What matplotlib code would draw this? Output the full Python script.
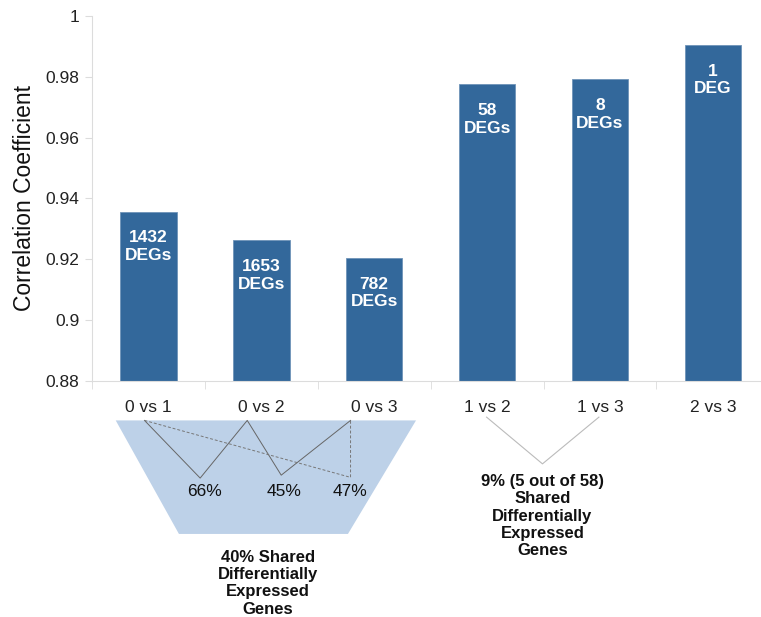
import matplotlib
matplotlib.use("Agg")
import matplotlib.pyplot as plt
import matplotlib.transforms as mtransforms
from matplotlib.patches import Polygon

plt.rcParams["font.family"] = ["Liberation Sans", "DejaVu Sans"]

# ============================================================
# 数据
# ============================================================
comparisons = ["0 vs 1", "0 vs 2", "0 vs 3", "1 vs 2", "1 vs 3", "2 vs 3"]
correlation = [0.9357, 0.9263, 0.9205, 0.9776, 0.9792, 0.9905]
deg_labels = ["1432\nDEGs", "1653\nDEGs", "782\nDEGs", "58\nDEGs", "8\nDEGs", "1\nDEG"]
pct_group0 = ["66%", "45%", "47%"]
note_group0 = "40% Shared\nDifferentially\nExpressed\nGenes"
note_group1 = "9% (5 out of 58)\nShared\nDifferentially\nExpressed\nGenes"

bar_color = "#33689b"
spine_color = "#dcdcdc"

fig = plt.figure(figsize=(7.61, 6.17), dpi=100)
ax = fig.add_axes([0.1209, 0.3825, 0.879, 0.5916])

x = list(range(len(comparisons)))
ax.bar(x, correlation, width=0.5, color=bar_color, edgecolor="#6f93b8", linewidth=0.6)

for xi, yi, lab in zip(x, correlation, deg_labels):
    ax.annotate(lab, (xi, yi), xytext=(0, -13.5), textcoords="offset points",
                ha="center", va="top", color="white", fontsize=12.5,
                fontweight="bold", linespacing=1.22)

ax.set_ylim(0.88, 1.0)
ax.set_xlim(-0.5, 5.425)
ax.set_yticks([0.88, 0.9, 0.92, 0.94, 0.96, 0.98, 1.0])
ax.set_yticklabels(["0.88", "0.9", "0.92", "0.94", "0.96", "0.98", "1"])
ax.set_xticks(x)
ax.set_xticklabels(comparisons)
ax.set_xticks([i + 0.5 for i in range(len(comparisons) - 1)] + [-0.5], minor=True)
ax.tick_params(axis="x", which="major", length=0, pad=14, labelsize=12.5, colors="#222222")
ax.tick_params(axis="x", which="minor", length=6, color=spine_color)
ax.tick_params(axis="y", length=5, color=spine_color, labelsize=12.5, labelcolor="#222222", pad=4)
ax.set_ylabel("Correlation Coefficient", fontsize=16.5, labelpad=7, color="#111111")

for side in ["top", "right"]:
    ax.spines[side].set_visible(False)
for side in ["left", "bottom"]:
    ax.spines[side].set_color(spine_color)

# ------------------------------------------------------------
# 下方注释：x 用数据坐标，y 用轴比例
# ------------------------------------------------------------
trans = mtransforms.blended_transform_factory(ax.transData, ax.transAxes)
top_y = -0.108
trap = Polygon([[-0.29, top_y], [2.37, top_y], [1.767, -0.419], [0.27, -0.419]],
               closed=True, facecolor="#bdd1e8", edgecolor="none",
               transform=trans, clip_on=False)
ax.add_patch(trap)

zig_x = [-0.035, 0.458, 0.875, 1.176, 1.79]
zig_y = [top_y, -0.266, top_y, -0.258, top_y]
ax.plot(zig_x, zig_y, color="#666666", lw=0.7, transform=trans, clip_on=False)
ax.plot([-0.035, 1.79, 1.79], [top_y, -0.264, top_y], color="#777777", lw=0.7,
        ls=(0, (3, 2)), transform=trans, clip_on=False)

for px, lab in zip([0.5, 1.2, 1.785], pct_group0):
    ax.text(px, -0.302, lab, transform=trans, ha="center", va="center",
            fontsize=12.5, color="#111111")

ax.text(1.06, -0.462, note_group0, transform=trans, ha="center", va="top",
        fontsize=12, fontweight="bold", linespacing=1.2, color="#111111")

ax.plot([2.995, 3.49, 3.99], [-0.099, -0.227, -0.099], color="#bbbbbb", lw=0.8,
        transform=trans, clip_on=False)
ax.text(3.49, -0.254, note_group1, transform=trans, ha="center", va="top",
        fontsize=12, fontweight="bold", linespacing=1.2, color="#111111")

fig.savefig("out.png", dpi=100)
plt.close(fig)
